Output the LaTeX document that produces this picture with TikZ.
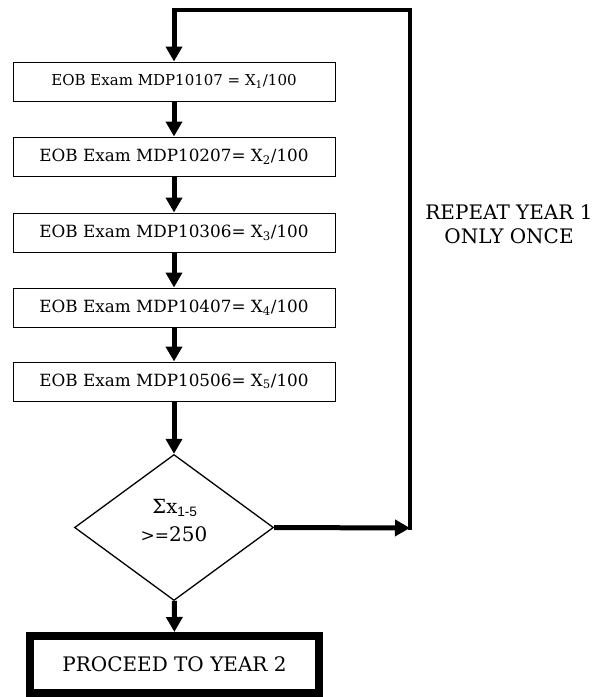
\documentclass[tikz,border=0pt]{standalone}
\usepackage{fontspec}
\setmainfont{DejaVu Serif}
\newfontfamily\subsans{Liberation Sans}
\usetikzlibrary{arrows.meta,shapes.geometric}
\begin{document}
\begin{tikzpicture}[x=1pt,y=-1pt,
  box/.style={draw,line width=1pt,minimum width=322pt,minimum height=39pt,inner sep=0pt,
    font=\fontsize{16.8}{19}\selectfont},
  flow/.style={line width=5pt,-{Triangle[length=15pt,width=16pt]}},
  loopline/.style={line width=4.5pt},
]
\useasboundingbox (0,0) rectangle (595,697);
\node[box,font=\fontsize{15}{17}\selectfont] (b1) at (174,81.5) {EOB Exam MDP10107 = X\textsubscript{1}/100};
\node[box] (b2) at (174,156.5) {EOB Exam MDP10207= X\textsubscript{2}/100};
\node[box] (b3) at (174,232.5) {EOB Exam MDP10306= X\textsubscript{3}/100};
\node[box] (b4) at (174,307.5) {EOB Exam MDP10407= X\textsubscript{4}/100};
\node[box] (b5) at (174,381.5) {EOB Exam MDP10506= X\textsubscript{5}/100};
\node[draw,diamond,line width=1.3pt,minimum width=199pt,minimum height=146pt,inner sep=0pt] (dia) at (174,527.5) {};
\node[font=\fontsize{19.5}{22}\selectfont] (dl1) at (175,508) {Σx\textsubscript{\subsans 1-5}};
\node[font=\fontsize{17}{20}\selectfont] (dl2) at (174,534) {>=\fontsize{20}{22}\selectfont 250};
\node[draw,line width=8pt,minimum width=289pt,minimum height=57pt,inner sep=0pt,
  font=\fontsize{20}{24}\selectfont] (fin) at (174.5,664.5) {PROCEED TO YEAR 2};
\draw[line width=2pt] ([shift={(6.5,6.5)}]fin.north west) rectangle ([shift={(-6.5,-6.5)}]fin.south east);
\node[align=center,font=\fontsize{20}{24}\selectfont] (lbl) at (509,224) {REPEAT YEAR 1\\ONLY ONCE};
\draw[flow] (b1) -- (b2);
\draw[flow] (b2) -- (b3);
\draw[flow] (b3) -- (b4);
\draw[flow] (b4) -- (b5);
\draw[flow] (b5) -- (dia);
\draw[flow] (dia) -- (fin);
\coordinate (r) at (410,528);
\coordinate (rt) at (410,10);
\coordinate (lt) at (b1.north |- 0,10);
\draw[flow] (dia.east) -- (r);
\draw[loopline,line cap=rect] (r) -- (rt) -- (lt);
\draw[flow] (lt) -- (b1);
\end{tikzpicture}
\end{document}
